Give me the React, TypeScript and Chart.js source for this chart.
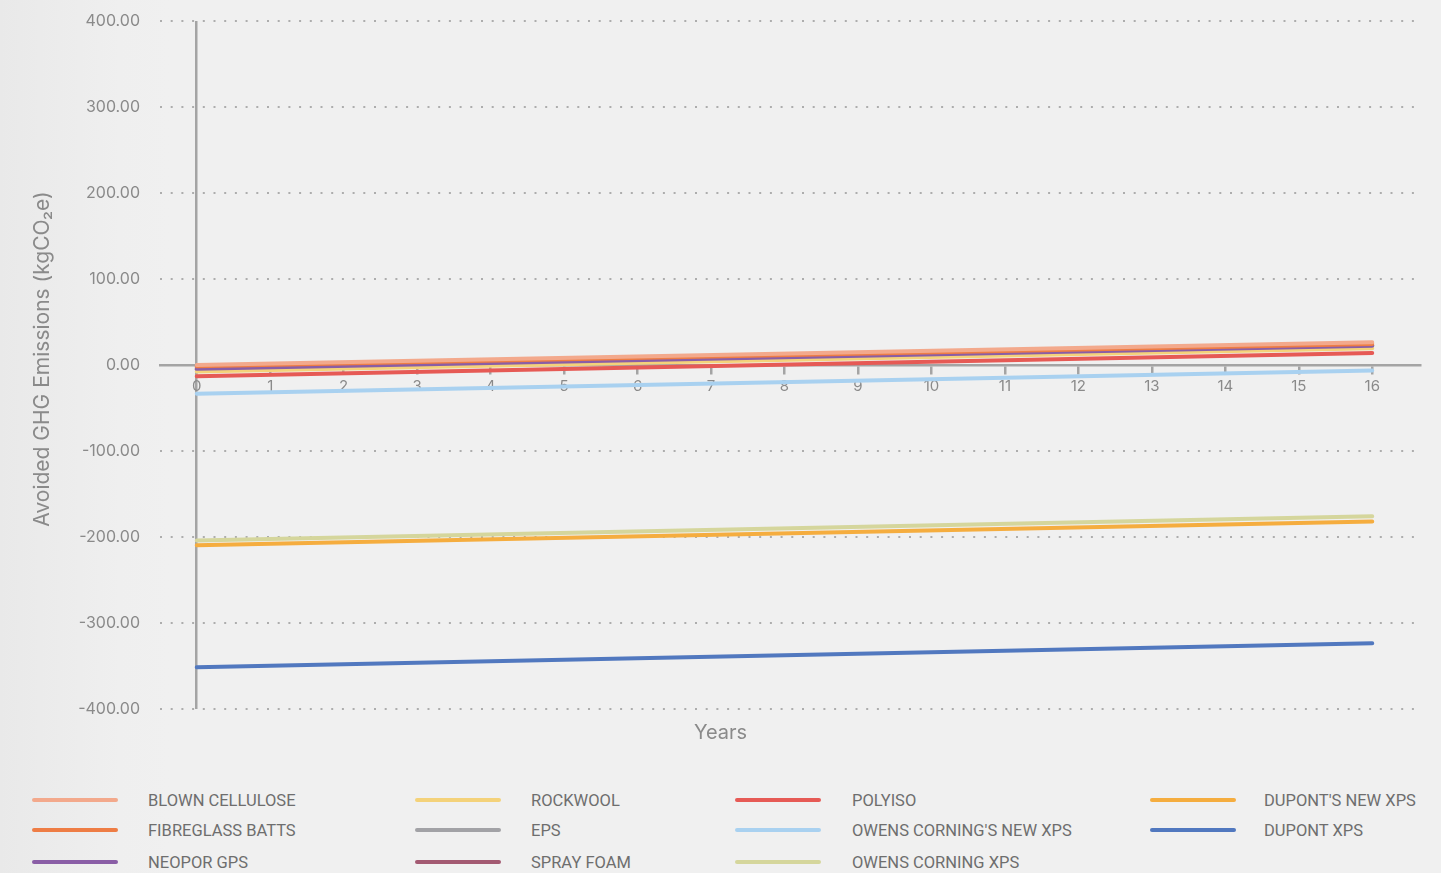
import React, { useEffect, useRef } from "react";
import { Chart, registerables } from "chart.js";

Chart.register(...registerables);

// Year ticks along the horizontal axis
const years = [0, 1, 2, 3, 4, 5, 6, 7, 8, 9, 10, 11, 12, 13, 14, 15, 16];
// Each series is a straight line from the first to the last year
const seriesYears = [0, 16];

// Avoided GHG emissions (kgCO2e) at the first and last year
const blownCellulose = [0, 26.5];
const fibreglassBatts = [-1.5, 24.5];
const neoporGps = [-4.5, 22.5];
const rockwool = [-7.5, 19.5];
const eps = [-3, 23];
const sprayFoam = [-5, 22];
const polyiso = [-13, 14];
const owensCorningNewXps = [-33.5, -6.5];
const owensCorningXps = [-204, -176];
const dupontNewXps = [-209.5, -182];
const dupontXps = [-351.5, -323.5];

const seriesNames = [
  "BLOWN CELLULOSE",
  "FIBREGLASS BATTS",
  "NEOPOR GPS",
  "ROCKWOOL",
  "EPS",
  "SPRAY FOAM",
  "POLYISO",
  "OWENS CORNING'S NEW XPS",
  "OWENS CORNING XPS",
  "DUPONT'S NEW XPS",
  "DUPONT XPS",
];
const seriesValues = [
  blownCellulose,
  fibreglassBatts,
  neoporGps,
  rockwool,
  eps,
  sprayFoam,
  polyiso,
  owensCorningNewXps,
  owensCorningXps,
  dupontNewXps,
  dupontXps,
];
const seriesColors = [
  "#f3a98c",
  "#ee7d45",
  "#8a5ea6",
  "#f4d27a",
  "#a2a2a6",
  "#a35a72",
  "#e65a55",
  "#a9d1f0",
  "#d5d69c",
  "#f5ad3f",
  "#5178bf",
];

const yTicks = [-400, -300, -200, -100, 0, 100, 200, 300, 400];
const xTitle = "Years";
const yTitle = "Avoided GHG Emissions (kgCO\u2082e)";

const AXIS_GRAY = "#a4a4a4";
const TEXT_GRAY = "#8a8a8a";
const FONT = "Inter, 'Noto Sans', sans-serif";

// Legend layout: column-major grid, three rows per column
const legendLineX = [32, 415, 735, 1150];
const legendTextX = [148, 531, 852, 1264];
const legendRowY = [800, 830, 862];

const axisTitles = {
  id: "axisTitles",
  afterDraw(chart: any) {
    const { ctx, chartArea } = chart;
    ctx.save();
    ctx.fillStyle = TEXT_GRAY;
    ctx.textAlign = "center";
    ctx.textBaseline = "middle";
    ctx.font = `20px ${FONT}`;
    ctx.fillText(xTitle, chart.width / 2, chartArea.bottom + 24);
    ctx.font = `21px ${FONT}`;
    ctx.translate(43, (chartArea.top + chartArea.bottom) / 2 - 6);
    ctx.rotate(-Math.PI / 2);
    ctx.fillText(yTitle, 0, 0);
    ctx.restore();
  },
};

function EmissionsChart() {
  const canvasRef = useRef<HTMLCanvasElement | null>(null);

  useEffect(() => {
    const canvas = canvasRef.current;
    if (!canvas) return;
    const datasets = seriesNames.map((name, i) => ({
      label: name,
      data: seriesYears.map((x, j) => ({ x, y: seriesValues[i][j] })),
      borderColor: seriesColors[i],
      backgroundColor: seriesColors[i],
      borderWidth: 4,
      borderCapStyle: "round" as const,
      pointRadius: 0,
      tension: 0,
      fill: false,
    }));

    const chart = new Chart(canvas, {
      type: "line",
      data: { datasets },
      plugins: [axisTitles],
      options: {
        animation: false,
        responsive: false,
        maintainAspectRatio: false,
        layout: { padding: { top: 21, right: 21, bottom: 51, left: 0 } },
        plugins: {
          legend: { display: false },
          tooltip: { enabled: false },
        },
        scales: {
          x: {
            type: "linear",
            position: { y: 0 },
            min: -0.5,
            max: 16.65,
            z: 1,
            afterBuildTicks: (scale: any) => {
              scale.ticks = years.map((v) => ({ value: v }));
            },
            border: { display: true, color: AXIS_GRAY, width: 2.5 },
            grid: {
              drawOnChartArea: true,
              drawTicks: true,
              tickLength: 8,
              lineWidth: 2.5,
              tickColor: AXIS_GRAY,
              color: (ctx: any) =>
                ctx.tick && ctx.tick.value === 0 ? AXIS_GRAY : "rgba(0,0,0,0)",
            },
            ticks: {
              color: TEXT_GRAY,
              font: { family: FONT, size: 15 },
              padding: 4,
              maxRotation: 0,
              autoSkip: false,
              callback: (v: any) => String(v),
            },
          },
          y: {
            type: "linear",
            position: "left",
            min: -400,
            max: 400,
            afterFit: (scale: any) => {
              scale.width = 160;
              scale.paddingTop = 0;
              scale.paddingBottom = 0;
            },
            afterBuildTicks: (scale: any) => {
              scale.ticks = yTicks.map((v) => ({ value: v }));
            },
            border: { display: false, dash: [2, 8.7] },
            grid: {
              drawTicks: false,
              color: "#adadad",
              lineWidth: 2,
            },
            ticks: {
              color: TEXT_GRAY,
              font: { family: FONT, size: 16 },
              padding: 20,
              callback: (v: any) => Number(v).toFixed(2),
            },
          },
        },
      },
    });
    return () => chart.destroy();
  }, []);

  return (
    <canvas
      ref={canvasRef}
      width={1441}
      height={760}
      style={{ position: "absolute", left: 0, top: 0, width: 1441, height: 760 }}
    />
  );
}

function Legend() {
  return (
    <>
      {seriesNames.map((name, i) => {
        const col = Math.floor(i / 3);
        const row = i % 3;
        const y = legendRowY[row];
        return (
          <React.Fragment key={name}>
            <div
              style={{
                position: "absolute",
                left: legendLineX[col],
                top: y - 2,
                width: 86,
                height: 4,
                borderRadius: 2,
                background: seriesColors[i],
              }}
            />
            <div
              style={{
                position: "absolute",
                left: legendTextX[col],
                top: y - 9,
                fontFamily: "Roboto, sans-serif",
                fontSize: 16.5,
                lineHeight: "20px",
                color: "#6e6e6e",
                whiteSpace: "nowrap",
              }}
            >
              {name}
            </div>
          </React.Fragment>
        );
      })}
    </>
  );
}

export default function App() {
  return (
    <div
      style={{
        position: "absolute",
        left: 0,
        top: 0,
        width: 1441,
        height: 873,
        overflow: "hidden",
        background: "linear-gradient(to right, #e9e9e9 0px, #efefef 120px, #f0f0f0 170px)",
      }}
    >
      <EmissionsChart />
      <Legend />
    </div>
  );
}
